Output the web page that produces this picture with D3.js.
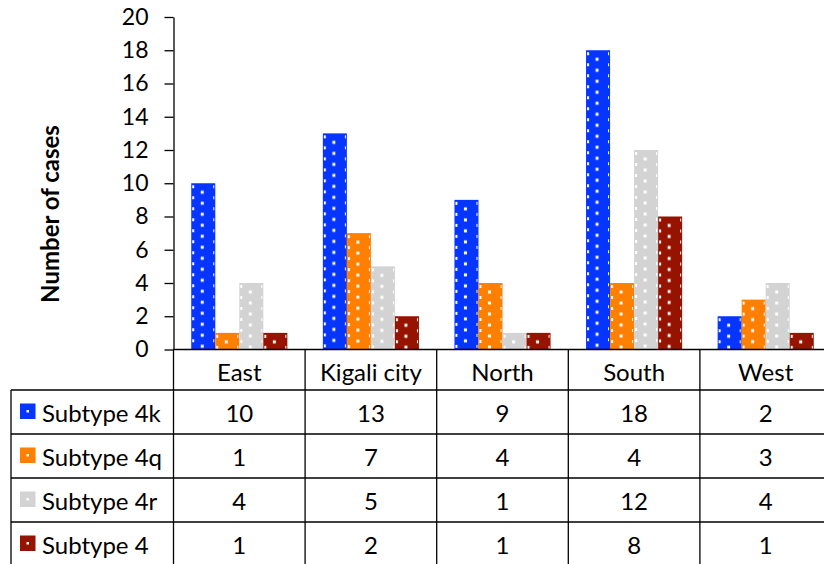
<!DOCTYPE html>
<html>
<head>
<meta charset="utf-8">
<script src="https://cdn.jsdelivr.net/npm/d3@7"></script>
<style>
  body { margin: 0; background: #fff; }
  svg text { font-family: Lato, "Open Sans", sans-serif; fill: #000; }
</style>
</head>
<body>
<div id="chart"></div>
<script>
// data
var categories = ["East", "Kigali city", "North", "South", "West"];
var seriesNames = ["Subtype 4k", "Subtype 4q", "Subtype 4r", "Subtype 4"];
var subtype4k = [10, 13, 9, 18, 2];
var subtype4q = [1, 7, 4, 4, 3];
var subtype4r = [4, 5, 1, 12, 4];
var subtype4 = [1, 2, 1, 8, 1];
var yTicks = [0, 2, 4, 6, 8, 10, 12, 14, 16, 18, 20];

var seriesValues = [subtype4k, subtype4q, subtype4r, subtype4];
var colors = ["#0535ff", "#ff7f00", "#d3d3d3", "#961300"];

var svgWidth = 824;
var svgHeight = 564;

var plotLeft = 173.5;
var colWidth = 131.6;
var plotTop = 17;
var plotBottom = 349.5;
var tableLeft = 11;
var headerBottom = 390;
var rowHeight = 44;

var svg = d3.select("#chart")
  .append("svg")
  .attr("width", svgWidth)
  .attr("height", svgHeight);

var x0 = d3.scaleBand()
  .domain(categories)
  .range([plotLeft, plotLeft + colWidth * categories.length]);

var x1 = d3.scaleBand()
  .domain(seriesNames)
  .range([17.75, colWidth - 17.75]);

var y = d3.scaleLinear()
  .domain([0, 20])
  .range([plotBottom, plotTop]);

// one flat list of bars
var bars = [];
categories.forEach(function(c, i) {
  seriesNames.forEach(function(s, j) {
    bars.push({cat: c, series: s, idx: j, value: seriesValues[j][i], id: "p" + i + "_" + j});
  });
});

// dotted pattern per bar so the dots line up with each bar's edge
var defs = svg.append("defs");
var pat = defs.selectAll("pattern")
  .data(bars)
  .enter()
  .append("pattern")
  .attr("id", function(d) { return d.id; })
  .attr("patternUnits", "userSpaceOnUse")
  .attr("x", function(d) { return x0(d.cat) + x1(d.series); })
  .attr("y", function(d) { return y(d.value) + 2; })
  .attr("width", x1.bandwidth() - 2)
  .attr("height", 11);
pat.append("rect")
  .attr("x", 0).attr("y", 0)
  .attr("width", x1.bandwidth()).attr("height", 11)
  .attr("fill", function(d) { return colors[d.idx]; });
pat.append("rect")
  .attr("x", 0).attr("y", 0)
  .attr("width", 3).attr("height", 3)
  .attr("fill", "#fff");
pat.append("rect")
  .attr("x", (x1.bandwidth() - 2) / 2 - 1.5).attr("y", 5.5)
  .attr("width", 3).attr("height", 3)
  .attr("fill", "#fff");

svg.append("g")
  .selectAll("rect")
  .data(bars)
  .enter()
  .append("rect")
  .attr("x", function(d) { return x0(d.cat) + x1(d.series); })
  .attr("y", function(d) { return y(d.value); })
  .attr("width", x1.bandwidth())
  .attr("height", function(d) { return y(0) - y(d.value); })
  .attr("fill", function(d) { return colors[d.idx]; });

svg.append("g")
  .selectAll("rect")
  .data(bars)
  .enter()
  .append("rect")
  .attr("x", function(d) { return x0(d.cat) + x1(d.series) + 1; })
  .attr("y", function(d) { return y(d.value) + 1; })
  .attr("width", x1.bandwidth() - 2)
  .attr("height", function(d) { return Math.max(0, y(0) - y(d.value) - 1); })
  .attr("fill", function(d) { return "url(#" + d.id + ")"; });

// y axis
var yAxis = svg.append("g")
  .attr("transform", "translate(" + plotLeft + ",0)")
  .call(d3.axisLeft(y).tickValues(yTicks).tickSize(9).tickSizeOuter(0).tickPadding(16));
yAxis.select(".domain").attr("stroke", "#000").attr("stroke-width", 1.3);
yAxis.selectAll(".tick line").attr("stroke", "#000").attr("stroke-width", 1.3);
yAxis.selectAll(".tick text")
  .style("font-size", "23px")
  .style("font-family", "Lato, sans-serif");

svg.append("text")
  .attr("transform", "translate(59,214) rotate(-90)")
  .attr("text-anchor", "middle")
  .style("font-size", "24px")
  .style("font-weight", "bold")
  .text("Number of cases");

// data table
var tableBottom = headerBottom + rowHeight * seriesNames.length;
var tableRight = plotLeft + colWidth * categories.length;
var grid = svg.append("g").attr("stroke", "#000").attr("stroke-width", 1.3);

grid.append("line")
  .attr("x1", plotLeft).attr("x2", tableRight)
  .attr("y1", plotBottom).attr("y2", plotBottom);

grid.selectAll(".hrow")
  .data(d3.range(seriesNames.length + 1))
  .enter()
  .append("line")
  .attr("x1", tableLeft).attr("x2", tableRight)
  .attr("y1", function(i) { return headerBottom + i * rowHeight; })
  .attr("y2", function(i) { return headerBottom + i * rowHeight; });

grid.append("line")
  .attr("x1", tableLeft).attr("x2", tableLeft)
  .attr("y1", headerBottom).attr("y2", tableBottom);

grid.selectAll(".vcol")
  .data(categories)
  .enter()
  .append("line")
  .attr("x1", function(d) { return x0(d); })
  .attr("x2", function(d) { return x0(d); })
  .attr("y1", plotBottom).attr("y2", tableBottom);

svg.append("g")
  .selectAll("text")
  .data(categories)
  .enter()
  .append("text")
  .attr("x", function(d) { return x0(d) + colWidth / 2; })
  .attr("y", 381)
  .attr("text-anchor", "middle")
  .style("font-size", "24px")
  .text(function(d) { return d; });

var rows = svg.append("g")
  .selectAll("g")
  .data(seriesNames)
  .enter()
  .append("g")
  .attr("transform", function(d, i) { return "translate(0," + (headerBottom + i * rowHeight) + ")"; });

rows.append("rect")
  .attr("x", 20)
  .attr("y", 13.5)
  .attr("width", 15.5)
  .attr("height", 15.5)
  .attr("fill", function(d, i) { return colors[i]; });
rows.append("rect")
  .attr("x", 26.5)
  .attr("y", 20)
  .attr("width", 2.5)
  .attr("height", 2.5)
  .attr("fill", "#fff");

rows.append("text")
  .attr("x", 42)
  .attr("y", 32)
  .style("font-size", "24px")
  .text(function(d) { return d; });

rows.selectAll(".val")
  .data(function(d, i) { return seriesValues[i]; })
  .enter()
  .append("text")
  .attr("x", function(d, i) { return x0(categories[i]) + colWidth / 2; })
  .attr("y", 32)
  .attr("text-anchor", "middle")
  .style("font-size", "24px")
  .text(function(d) { return d; });
</script>
</body>
</html>
